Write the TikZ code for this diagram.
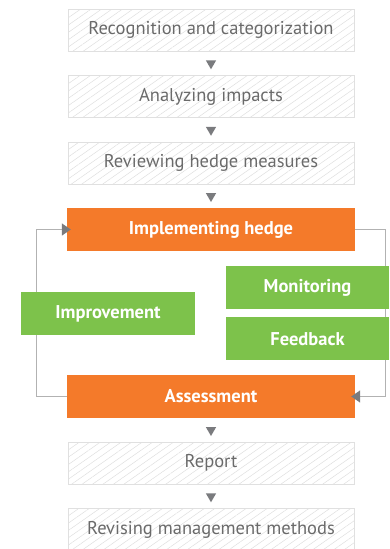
\documentclass[tikz,border=0pt]{standalone}
\usepackage{fontspec}
\setmainfont{PT Sans}
\usepackage{tikz}
\usetikzlibrary{shapes.geometric,arrows.meta,patterns.meta,positioning}
\definecolor{hedgeorange}{HTML}{F47A2A}
\definecolor{hedgegreen}{HTML}{7DC24B}
\definecolor{stepgray}{HTML}{6A6A6A}
\definecolor{tipgray}{HTML}{7A7B7E}

\begin{document}
\begin{tikzpicture}[x=1pt,y=-1pt,node distance=66.5pt,>={Triangle[length=9pt,width=12pt,color=tipgray]}]
\tikzstyle{plain}=[draw=black!12, pattern={Lines[angle=35,distance=6pt,line width=0.5pt]}, pattern color=black!13, text=stepgray, minimum width=286pt, minimum height=42pt, font=\fontsize{18.5}{20}\selectfont]
\tikzstyle{main}=[fill=hedgeorange, text=white, minimum width=288pt, minimum height=43pt, font=\fontsize{18.5}{20}\selectfont\bfseries]
\tikzstyle{side}=[fill=hedgegreen, text=white, minimum height=43pt, font=\fontsize{18.5}{20}\selectfont\bfseries]
\tikzstyle{down}=[regular polygon, regular polygon sides=3, shape border rotate=180, fill=tipgray, minimum size=12pt, inner sep=0pt]
\tikzstyle{loop line}=[->, draw=black!30, line width=1.3pt, shorten >=-4pt]
\useasboundingbox (0,0) rectangle (389,549);
\node[plain] (1) at (211,30) {Recognition and categorization};
\node[plain][below of=1] (2) {Analyzing impacts};
\node[plain][below of=2] (3) {Reviewing hedge measures};
\node[main][below of=3] (4) {Implementing hedge};
\node[main][below of=4, node distance=167pt] (6) {Assessment};
\node[plain][below of=6] (7) {Report};
\node[plain][below of=7] (8) {Revising management methods};
\foreach \a/\b in {1/2,2/3,3/4,6/7,7/8}
  \path (\a) -- node[down]{} (\b);
% loop round the two orange steps
\draw[loop line] (6.west) -- ++(-30,0) |- (4.west);
\draw[loop line] (4.east) -- ++(30,0) |- (6.east);
\node[side, minimum width=163pt] (5) at (307.5,287.5) {Monitoring};
\node[side, minimum width=163pt][below=8pt of 5] (9) {Feedback};
\node[side, minimum width=174pt] (10) at (108,313.5) {Improvement};
\end{tikzpicture}
\end{document}
